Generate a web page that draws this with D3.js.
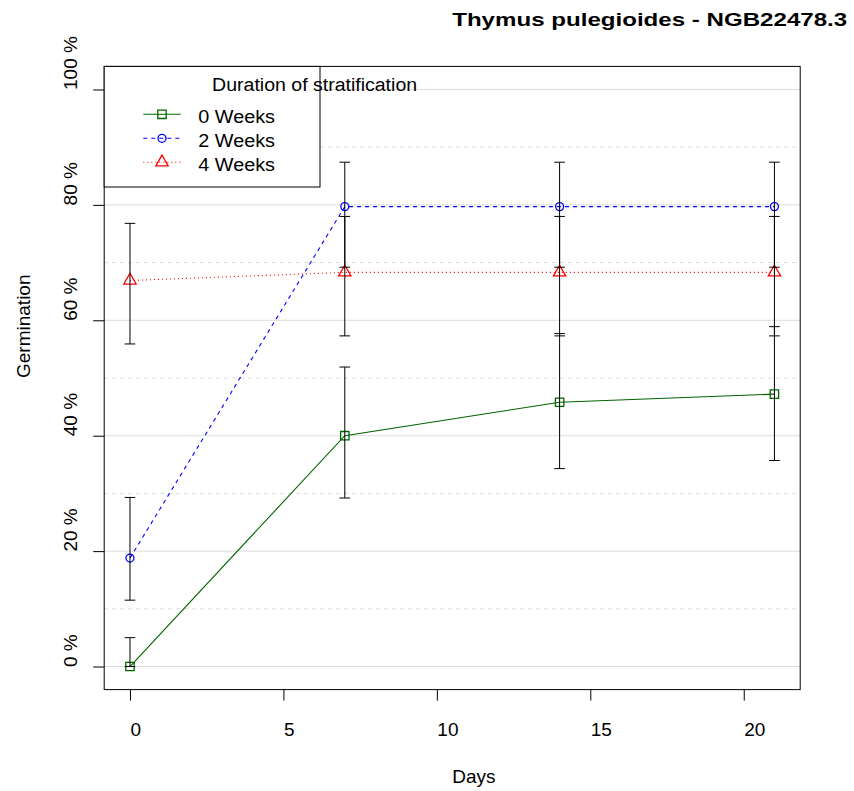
<!DOCTYPE html>
<html>
<head>
<meta charset="utf-8">
<script src="https://cdn.jsdelivr.net/npm/d3@7"></script>
<style>
  html, body { margin: 0; padding: 0; background: #fff; }
  svg { display: block; font-family: "Liberation Sans", Arial, Helvetica, sans-serif; }
</style>
</head>
<body>
<svg id="chart" width="854" height="791"></svg>
<script>
// ---------------- data ----------------
const chartTitle = "Thymus pulegioides - NGB22478.3";
const days = [0, 7, 14, 21];
const seriesNames = ["0 Weeks", "2 Weeks", "4 Weeks"];
const weeks0 = [0, 40.0, 45.8, 47.2];
const weeks0Lo = [0, 29.2, 34.3, 35.7];
const weeks0Hi = [5.0, 51.9, 57.7, 58.9];
const weeks2 = [18.8, 79.7, 79.7, 79.7];
const weeks2Lo = [11.5, 69.2, 69.2, 69.2];
const weeks2Hi = [29.3, 87.4, 87.4, 87.4];
const weeks4 = [66.9, 68.3, 68.3, 68.3];
const weeks4Lo = [55.9, 57.3, 57.3, 57.3];
const weeks4Hi = [76.8, 78.0, 78.0, 78.0];
const xTicks = [0, 5, 10, 15, 20];
const yTicks = [0, 20, 40, 60, 80, 100];
const yMinorGrid = [10, 30, 50, 70, 90];
const legendTitle = "Duration of stratification";
const xLabel = "Days";
const yLabel = "Germination";

// ---------------- styles ----------------
const styles = [
  { color: "#006400", dash: null, symbol: d3.symbolSquare, size: 70 },
  { color: "#0000ff", dash: "4,4", symbol: d3.symbolCircle, size: 50 },
  { color: "#ff0000", dash: "1,3", symbol: d3.symbolTriangle, size: 66 }
];
const series = [
  { name: seriesNames[0], v: weeks0, lo: weeks0Lo, hi: weeks0Hi, s: styles[0] },
  { name: seriesNames[1], v: weeks2, lo: weeks2Lo, hi: weeks2Hi, s: styles[1] },
  { name: seriesNames[2], v: weeks4, lo: weeks4Lo, hi: weeks4Hi, s: styles[2] }
];

const svg = d3.select("#chart");
const fontSize = 19;

const x = d3.scaleLinear().domain([-0.84, 21.84]).range([104.2, 800.2]);
const y = d3.scaleLinear().domain([-4, 104]).range([689.6, 66.4]);
const X0 = x.range()[0], X1 = x.range()[1], Y0 = y.range()[0], Y1 = y.range()[1];

// grid
const grid = svg.append("g");
grid.selectAll("line.major").data(yTicks).join("line")
  .attr("x1", X0).attr("x2", X1)
  .attr("y1", d => y(d)).attr("y2", d => y(d))
  .attr("stroke", "#dcdcdc").attr("stroke-width", 1);
grid.selectAll("line.minor").data(yMinorGrid).join("line")
  .attr("x1", X0).attr("x2", X1)
  .attr("y1", d => y(d)).attr("y2", d => y(d))
  .attr("stroke", "#dcdcdc").attr("stroke-width", 1).attr("stroke-dasharray", "4,4");

// series lines
const line = d3.line().x((d, i) => x(days[i])).y(d => y(d));
series.forEach(sr => {
  svg.append("path").datum(sr.v)
    .attr("d", line)
    .attr("fill", "none")
    .attr("stroke", sr.s.color)
    .attr("stroke-width", 1.1)
    .attr("stroke-dasharray", sr.s.dash);
});

// markers
series.forEach(sr => {
  svg.append("g").selectAll("path").data(sr.v).join("path")
    .attr("transform", (d, i) => `translate(${x(days[i])},${y(d)})`)
    .attr("d", d3.symbol().type(sr.s.symbol).size(sr.s.size))
    .attr("fill", "none")
    .attr("stroke", sr.s.color)
    .attr("stroke-width", 1.3);
});

// error bars
const cap = 5.3;
series.forEach(sr => {
  const g = svg.append("g").attr("stroke", "#000").attr("stroke-width", 1);
  days.forEach((dd, i) => {
    const cx = x(dd);
    g.append("line").attr("x1", cx).attr("x2", cx).attr("y1", y(sr.lo[i])).attr("y2", y(sr.hi[i]));
    g.append("line").attr("x1", cx - cap).attr("x2", cx + cap).attr("y1", y(sr.lo[i])).attr("y2", y(sr.lo[i]));
    g.append("line").attr("x1", cx - cap).attr("x2", cx + cap).attr("y1", y(sr.hi[i])).attr("y2", y(sr.hi[i]));
  });
});

// box
svg.append("rect").attr("x", X0).attr("y", Y1).attr("width", X1 - X0).attr("height", Y0 - Y1)
  .attr("fill", "none").attr("stroke", "#000").attr("stroke-width", 1);

// axes
const xAxis = svg.append("g").attr("transform", `translate(0,${Y0})`)
  .call(d3.axisBottom(x).tickValues(xTicks).tickSize(11).tickSizeOuter(0));
xAxis.select(".domain").remove();
xAxis.selectAll(".tick line").attr("stroke", "#000");
xAxis.selectAll(".tick text")
  .attr("fill", "#000").attr("font-size", fontSize).attr("font-family", null)
  .attr("text-anchor", "start").attr("x", 0).attr("y", 46).attr("dy", null);

const yAxis = svg.append("g").attr("transform", `translate(${X0},0)`)
  .call(d3.axisLeft(y).tickValues(yTicks).tickFormat(d => d + " %").tickSize(11).tickSizeOuter(0));
yAxis.select(".domain").remove();
yAxis.selectAll(".tick line").attr("stroke", "#000");
yAxis.selectAll(".tick text")
  .attr("fill", "#000").attr("font-size", fontSize).attr("font-family", null)
  .attr("text-anchor", "start").attr("transform", "rotate(-90)")
  .attr("x", 0).attr("y", -27.7).attr("dy", null);

// axis titles
svg.append("text").attr("x", (X0 + X1) / 2).attr("y", 783)
  .attr("font-size", fontSize).attr("text-anchor", "start").text(xLabel);
svg.append("text")
  .attr("transform", `translate(30,${(Y0 + Y1) / 2}) rotate(-90)`)
  .attr("font-size", fontSize).attr("text-anchor", "start").text(yLabel);

// title
svg.append("text").attr("x", (X0 + X1) / 2).attr("y", 25.5)
  .attr("font-size", 19).attr("font-weight", "bold")
  .attr("textLength", 395).attr("lengthAdjust", "spacingAndGlyphs")
  .text(chartTitle);

// legend
const lg = svg.append("g");
lg.append("rect").attr("x", X0).attr("y", Y1).attr("width", 320 - X0).attr("height", 187 - Y1)
  .attr("fill", "#fff").attr("stroke", "#000").attr("stroke-width", 1);
lg.append("text").attr("x", (X0 + 320) / 2).attr("y", 91)
  .attr("font-size", 18).attr("textLength", 205).attr("lengthAdjust", "spacingAndGlyphs")
  .text(legendTitle);
series.forEach((sr, i) => {
  const ly = 114.3 + i * 24;
  lg.append("line").attr("x1", 143.3).attr("x2", 180.7).attr("y1", ly).attr("y2", ly)
    .attr("stroke", sr.s.color).attr("stroke-width", 1.1).attr("stroke-dasharray", sr.s.dash);
  lg.append("path").attr("transform", `translate(162,${ly})`)
    .attr("d", d3.symbol().type(sr.s.symbol).size(sr.s.size))
    .attr("fill", "none").attr("stroke", sr.s.color).attr("stroke-width", 1.3);
  lg.append("text").attr("x", 198.3).attr("y", ly + 9)
    .attr("font-size", 18).attr("textLength", 76.7).attr("lengthAdjust", "spacingAndGlyphs")
    .text(sr.name);
});
</script>
</body>
</html>
